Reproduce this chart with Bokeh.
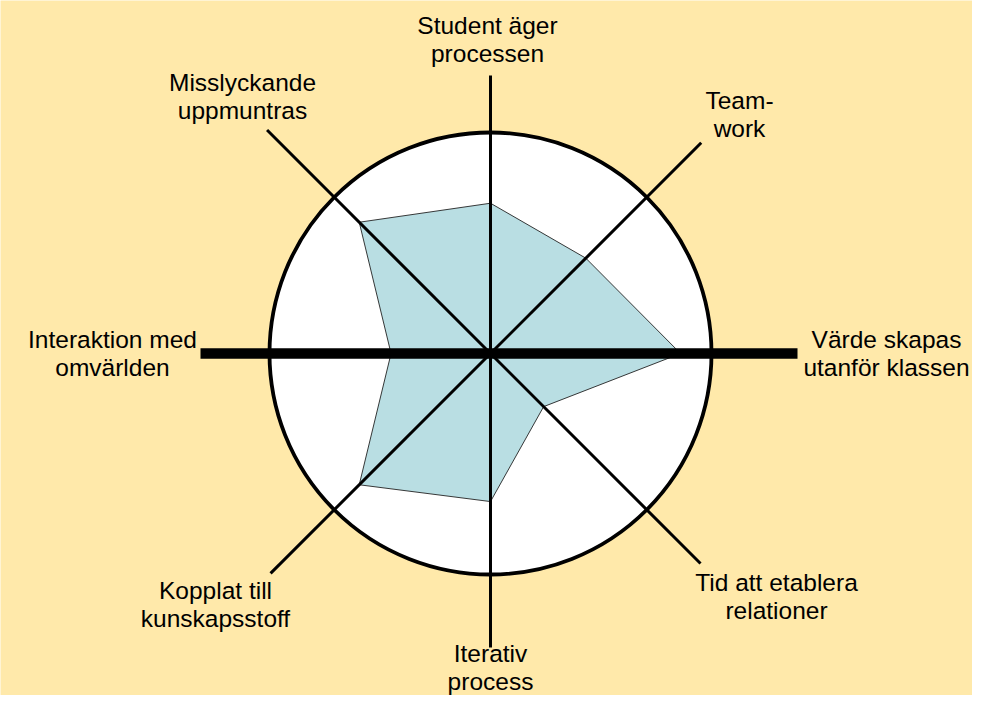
import numpy as np
from bokeh.plotting import figure
from bokeh.embed import file_html
from bokeh.resources import INLINE
from bokeh.core.properties import value

# ---- data ----
labels_line1 = ["Student äger", "Team-", "Värde skapas", "Tid att etablera",
                "Iterativ", "Kopplat till", "Interaktion med", "Misslyckande"]
labels_line2 = ["processen", "work", "utanför klassen", "relationer",
                "process", "kunskapsstoff", "omvärlden", "uppmuntras"]
angles_deg = [90, 45, 0, -45, -90, -135, 180, 135]
scores = [0.68, 0.61, 0.86, 0.34, 0.67, 0.84, 0.45, 0.84]   # share of max (circle = 1)

# ---- layout (pixels relative to the chart centre) ----
R = 221.0
spoke_reach = [278, 298, 307, 297, 294, 311, 290, 316]
spoke_width = [3, 3, 10.5, 3, 3, 3, 10.5, 3]
label_pos = [(-3, 328), (249, 253), (396, 14), (286, -229),
             (0, -300), (-275, -237), (-378, 14), (-248, 271)]
line_gap = 27.5

BG = "#FFE9AA"
FILL = "#B9DEE3"

W, H = 972, 695
cx, cy = 490, 353   # centre in plot pixels

p = figure(width=W, height=H, output_backend="svg", toolbar_location=None,
           x_range=(-cx, W - cx), y_range=(-(H - cy), cy),
           min_border=0, match_aspect=False)
p.axis.visible = False
p.grid.visible = False
p.outline_line_color = None
p.background_fill_color = BG
p.border_fill_color = BG

ang = np.radians(angles_deg)

# circle background
p.circle(x=[0], y=[0], radius=R, fill_color="white", line_color=None)

# data polygon
vals = np.array(scores) * R
px = vals * np.cos(ang)
py = vals * np.sin(ang)
p.patch(x=list(px), y=list(py), fill_color=FILL, line_color="#222222", line_width=0.9)

# spokes
sx = [0] * 8
sy = [0] * 8
ex = list(np.array(spoke_reach) * np.cos(ang))
ey = list(np.array(spoke_reach) * np.sin(ang))
p.segment(x0=sx, y0=sy, x1=ex, y1=ey, line_color="black", line_width=spoke_width)

# circle outline
p.circle(x=[0], y=[0], radius=R, fill_color=None, line_color="black", line_width=3.8)

# labels
lx = [q[0] for q in label_pos]
ly = [q[1] for q in label_pos]
ly2 = [y - line_gap for y in ly]
font = value("Liberation Sans")
p.text(x=lx, y=ly, text=labels_line1, text_align="center", text_baseline="alphabetic",
       text_font=font, text_font_size="24.5px", text_color="black")
p.text(x=lx, y=ly2, text=labels_line2, text_align="center", text_baseline="alphabetic",
       text_font=font, text_font_size="24.5px", text_color="black")

open("out.html", "w").write(file_html(p, INLINE))
